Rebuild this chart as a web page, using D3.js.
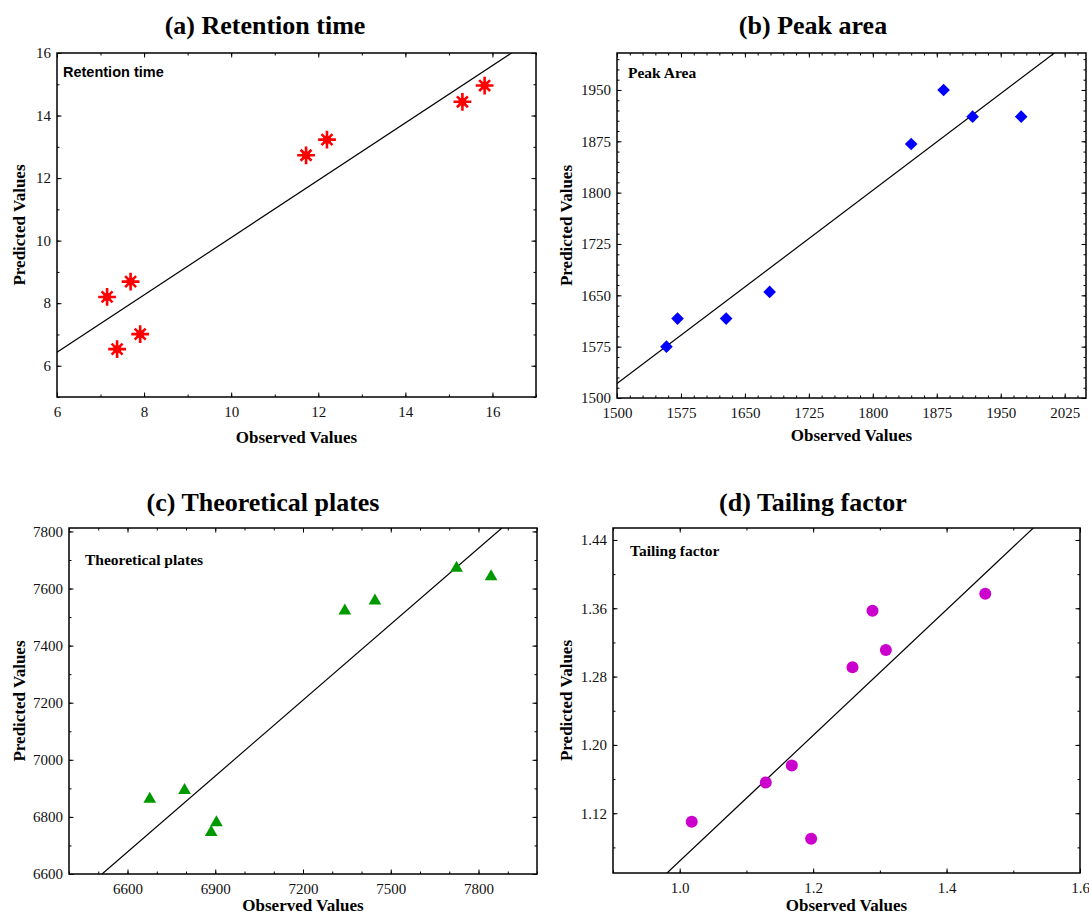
<!DOCTYPE html>
<html>
<head>
<meta charset="utf-8">
<script src="https://cdn.jsdelivr.net/npm/d3@7"></script>
<style>
  body { margin: 0; background: #fff; }
</style>
</head>
<body>
<div id="chart"></div>
<script>
// (a) retention time
const retObserved  = [7.15, 7.38, 7.69, 7.91, 11.72, 12.20, 15.31, 15.82];
const retPredicted = [8.20, 6.53, 8.69, 7.01, 12.73, 13.23, 14.44, 14.96];
const retFitX = [6, 16.44];
const retFitY = [6.43, 16];
const retXTicks = [6, 8, 10, 12, 14, 16];
const retYTicks = [6, 8, 10, 12, 14, 16];

// (b) peak area
const peakObserved  = [1558, 1571, 1628, 1679, 1845, 1883, 1917, 1974];
const peakPredicted = [1575, 1616, 1616, 1655, 1871, 1950, 1911, 1911];
const peakFitX = [1500, 2013];
const peakFitY = [1521, 2004];
const peakXTicks = [1500, 1575, 1650, 1725, 1800, 1875, 1950, 2025];
const peakYTicks = [1500, 1575, 1650, 1725, 1800, 1875, 1950];

// (c) theoretical plates
const platesObserved  = [6676, 6795, 6886, 6904, 7343, 7446, 7725, 7843];
const platesPredicted = [6862, 6893, 6746, 6780, 7522, 7557, 7672, 7642];
const platesFitX = [6513, 7880];
const platesFitY = [6600, 7812];
const platesXTicks = [6600, 6900, 7200, 7500, 7800];
const platesYTicks = [6600, 6800, 7000, 7200, 7400, 7600, 7800];

// (d) tailing factor
const tailObserved  = [1.018, 1.129, 1.168, 1.197, 1.259, 1.289, 1.309, 1.458];
const tailPredicted = [1.110, 1.156, 1.176, 1.090, 1.291, 1.357, 1.311, 1.377];
const tailFitX = [0.981, 1.53];
const tailFitY = [1.05, 1.454];
const tailXTicks = [1.0, 1.2, 1.4, 1.6];
const tailYTicks = [1.12, 1.20, 1.28, 1.36, 1.44];

const SERIF = '"Liberation Serif", "Times New Roman", serif';
const SANS = '"Liberation Sans", Arial, sans-serif';

const panels = [
  { title: '(a) Retention time', tag: 'Retention time', tagSans: true,
    xs: retObserved, ys: retPredicted, fx: retFitX, fy: retFitY,
    xDomain: [6, 17], yDomain: [5, 16], xTicks: retXTicks, yTicks: retYTicks,
    xMinor: d3.range(6, 17.01, 1), yMinor: d3.range(5, 16.01, 1),
    xFmt: d3.format('d'), yFmt: d3.format('d'),
    left: 57, right: 536, top: 53, bottom: 397,
    titleX: 265, titleY: 34, tagX: 63, tagY: 77, xLabY: 443, yLabX: 19,
    marker: 'asterisk', color: '#ff0000' },
  { title: '(b) Peak area', tag: 'Peak Area',
    xs: peakObserved, ys: peakPredicted, fx: peakFitX, fy: peakFitY,
    xDomain: [1500, 2050], yDomain: [1500, 2004], xTicks: peakXTicks, yTicks: peakYTicks,
    xMinor: d3.range(1500, 2050.1, 15), yMinor: d3.range(1500, 2004, 15),
    xFmt: d3.format('d'), yFmt: d3.format('d'),
    left: 617, right: 1086, top: 53, bottom: 398,
    titleX: 813, titleY: 34, tagX: 628, tagY: 78, xLabY: 441, yLabX: 566,
    marker: 'diamond', color: '#0000ff' },
  { title: '(c) Theoretical plates', tag: 'Theoretical plates',
    xs: platesObserved, ys: platesPredicted, fx: platesFitX, fy: platesFitY,
    xDomain: [6400, 8000], yDomain: [6600, 7812], xTicks: platesXTicks, yTicks: platesYTicks,
    xMinor: d3.range(6400, 8000.1, 100), yMinor: d3.range(6600, 7812, 100),
    xFmt: d3.format('d'), yFmt: d3.format('d'),
    left: 69, right: 537, top: 528, bottom: 874,
    titleX: 263, titleY: 511, tagX: 85, tagY: 565, xLabY: 911, yLabX: 19,
    marker: 'triangle', color: '#009900' },
  { title: '(d) Tailing factor', tag: 'Tailing factor',
    xs: tailObserved, ys: tailPredicted, fx: tailFitX, fy: tailFitY,
    xDomain: [0.9, 1.6], yDomain: [1.05, 1.454], xTicks: tailXTicks, yTicks: tailYTicks,
    xMinor: d3.range(0.9, 1.601, 0.1), yMinor: d3.range(1.08, 1.454, 0.04),
    xFmt: d3.format('.1f'), yFmt: d3.format('.2f'),
    left: 613, right: 1080, top: 528, bottom: 873,
    titleX: 813, titleY: 511, tagX: 630, tagY: 556, xLabY: 911, yLabX: 566,
    marker: 'circle', color: '#cc00cc' }
];

const svg = d3.select('#chart').append('svg')
  .attr('width', 1089)
  .attr('height', 917)
  .style('background', '#fff');

function tickAxis(g, axis, values, size, fmt, transform) {
  const ax = axis.tickValues(values).tickSizeInner(-size).tickSizeOuter(0).tickPadding(6);
  ax.tickFormat(fmt || (() => ''));
  const sel = g.append('g').attr('transform', transform).call(ax);
  sel.select('.domain').remove();
  sel.selectAll('line').attr('stroke', '#000').attr('stroke-width', 1);
  sel.selectAll('text').attr('fill', '#111')
    .style('font-size', '15px').style('font-family', SERIF);
  return sel;
}

function drawMarker(g, p, cx, cy) {
  const c = p.color;
  if (p.marker === 'asterisk') {
    const a = g.append('g').attr('transform', `translate(${cx},${cy})`);
    a.append('path').attr('d', d3.symbol(d3.symbolPlus, 105)())
      .attr('fill', 'none').attr('stroke', c).attr('stroke-width', 2.6);
    a.append('path').attr('d', d3.symbol(d3.symbolTimes, 80)())
      .attr('fill', 'none').attr('stroke', c).attr('stroke-width', 2.6);
    a.append('circle').attr('r', 4).attr('fill', c);
  } else if (p.marker === 'diamond') {
    g.append('path').attr('d', d3.symbol(d3.symbolSquare, 80)())
      .attr('transform', `translate(${cx},${cy}) rotate(45)`).attr('fill', c);
  } else if (p.marker === 'triangle') {
    g.append('path').attr('d', d3.symbol(d3.symbolTriangle, 70)())
      .attr('transform', `translate(${cx},${cy})`).attr('fill', c);
  } else {
    g.append('circle').attr('cx', cx).attr('cy', cy).attr('r', 6).attr('fill', c);
  }
}

panels.forEach(p => {
  const x = d3.scaleLinear().domain(p.xDomain).range([p.left, p.right]);
  const y = d3.scaleLinear().domain(p.yDomain).range([p.bottom, p.top]);
  const g = svg.append('g');

  // title
  g.append('text').attr('x', p.titleX).attr('y', p.titleY)
    .attr('text-anchor', 'middle')
    .style('font-family', SERIF).style('font-size', '26px').style('font-weight', 'bold')
    .text(p.title);

  // minor ticks, all four sides
  tickAxis(g, d3.axisBottom(x), p.xMinor, 2.5, null, `translate(0,${p.bottom})`);
  tickAxis(g, d3.axisTop(x), p.xMinor, 2.5, null, `translate(0,${p.top})`);
  tickAxis(g, d3.axisLeft(y), p.yMinor, 2.5, null, `translate(${p.left},0)`);
  tickAxis(g, d3.axisRight(y), p.yMinor, 2.5, null, `translate(${p.right},0)`);

  // major ticks, labels on bottom / left
  tickAxis(g, d3.axisBottom(x), p.xTicks, 4.5, p.xFmt, `translate(0,${p.bottom})`)
    .selectAll('text').attr('dy', '0.95em');
  tickAxis(g, d3.axisTop(x), p.xTicks, 4.5, null, `translate(0,${p.top})`);
  tickAxis(g, d3.axisLeft(y), p.yTicks, 4.5, p.yFmt, `translate(${p.left},0)`);
  tickAxis(g, d3.axisRight(y), p.yTicks, 4.5, null, `translate(${p.right},0)`);

  // frame
  g.append('rect')
    .attr('x', p.left).attr('y', p.top)
    .attr('width', p.right - p.left).attr('height', p.bottom - p.top)
    .attr('fill', 'none').attr('stroke', '#000').attr('stroke-width', 1.5);

  // fitted line
  const clipId = 'clip' + p.marker;
  g.append('clipPath').attr('id', clipId).append('rect')
    .attr('x', p.left).attr('y', p.top)
    .attr('width', p.right - p.left).attr('height', p.bottom - p.top);
  const line = d3.line().x(d => x(d[0])).y(d => y(d[1]));
  g.append('path')
    .datum(d3.zip(p.fx, p.fy))
    .attr('clip-path', `url(#${clipId})`)
    .attr('d', line)
    .attr('fill', 'none').attr('stroke', '#000').attr('stroke-width', 1.2);

  // points
  p.xs.forEach((v, i) => drawMarker(g, p, x(v), y(p.ys[i])));

  // inner tag
  g.append('text').attr('x', p.tagX).attr('y', p.tagY)
    .style('font-weight', 'bold')
    .style('font-size', p.tagSans ? '14.5px' : '15.5px')
    .style('font-family', p.tagSans ? SANS : SERIF)
    .text(p.tag);

  // axis titles
  g.append('text').attr('x', (p.left + p.right) / 2).attr('y', p.xLabY)
    .attr('text-anchor', 'middle')
    .style('font-family', SERIF).style('font-size', '17px').style('font-weight', 'bold')
    .text('Observed Values');
  g.append('text')
    .attr('transform', `translate(${p.yLabX},${(p.top + p.bottom) / 2}) rotate(-90)`)
    .attr('text-anchor', 'middle').attr('dy', '0.35em')
    .style('font-family', SERIF).style('font-size', '17px').style('font-weight', 'bold')
    .text('Predicted Values');
});
</script>
</body>
</html>
